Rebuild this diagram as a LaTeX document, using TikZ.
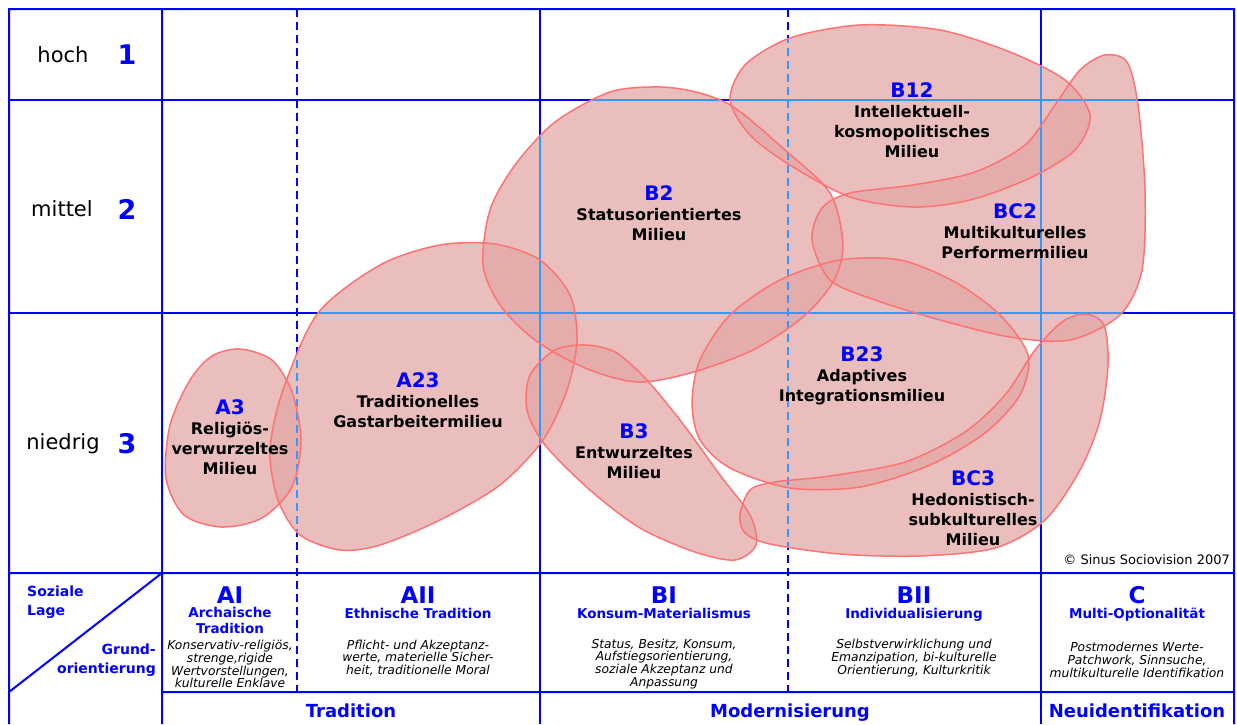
\documentclass[tikz,border=0pt]{standalone}
\usepackage{fontspec}
\setmainfont{DejaVu Sans}
\usetikzlibrary{positioning}

\definecolor{lineblue}{RGB}{0,0,255}
\definecolor{lightblue}{RGB}{51,153,255}
\definecolor{milfill}{RGB}{227,165,165}
\definecolor{milline}{RGB}{252,115,115}

\tikzset{
  gline/.style={lineblue, line width=2pt},
  gdash/.style={gline, dash pattern=on 8pt off 5pt},
  gin/.style={lightblue, line width=2pt},
  gindash/.style={gin, dash pattern=on 8pt off 5pt},
  milieu/.style={fill=milfill, fill opacity=0.72},
  milborder/.style={milline, line width=1.5pt},
  mlabel/.style={align=center, inner sep=0pt, font=\fontsize{16}{20}\selectfont\bfseries},
  level/.style={inner sep=0pt, font=\fontsize{21}{24}\selectfont},
  levelno/.style={inner sep=0pt, text=lineblue, font=\fontsize{27}{30}\selectfont\bfseries},
  coltitle/.style={inner sep=0pt, text=lineblue, font=\fontsize{23}{26}\selectfont\bfseries},
  colsub/.style={inner sep=0pt, align=center, text=lineblue, font=\fontsize{13.5}{16}\selectfont\bfseries},
  coldesc/.style={inner sep=0pt, align=center, font=\fontsize{12.3}{12.9}\selectfont\itshape},
  colgroup/.style={inner sep=0pt, anchor=base, text=lineblue, font=\fontsize{18}{20}\selectfont\bfseries},
  corner/.style={inner sep=0pt, align=#1, text=lineblue, font=\fontsize{14}{19.5}\selectfont\bfseries}
}

\newcommand\mtitle[1]{{\fontsize{20}{20}\selectfont\color{lineblue}#1}}

\newcommand\innerlines[2]{%
  \draw[#1] (9,100) -- (1234,100) (9,313) -- (1234,313)
    (540,9) -- (540,724) (1041,9) -- (1041,724);
  \draw[#2] (297,9) -- (297,692) (788,9) -- (788,692);}

\newcommand\blobathree{plot[smooth cycle] coordinates {(240,349) (272,360) (292,392) (301,440) (292,487) (262,518) (222,527) (184,515) (166,478) (170,425) (190,380) (212,356)}}
\newcommand\blobatwothree{plot[smooth cycle] coordinates {(283,390) (318,313) (380,265) (440,245) (495,244) (540,260) (570,295) (577,340) (567,390) (543,440) (500,485) (440,520) (380,545) (340,550) (300,535) (278,500) (270,450)}}
\newcommand\blobbtwo{plot[smooth cycle] coordinates {(610,92) (660,87) (700,93) (735,108) (785,150) (830,193) (843,245) (833,282) (803,317) (753,350) (690,373) (637,382) (585,368) (535,340) (500,305) (483,265) (490,210) (515,165) (555,122)}}
\newcommand\blobbonetwo{plot[smooth cycle] coordinates {(730,100) (745,65) (790,38) (860,25) (940,30) (1010,52) (1065,80) (1090,115) (1075,150) (1030,178) (970,200) (913,207) (850,197) (790,165) (750,135)}}
\newcommand\blobbctwo{plot[smooth cycle] coordinates {(812,240) (822,208) (850,193) (913,185) (975,172) (1025,145) (1055,105) (1080,70) (1105,55) (1127,62) (1138,105) (1145,190) (1142,270) (1120,315) (1070,340) (1010,337) (940,320) (875,300) (830,280)}}
\newcommand\blobbthree{plot[smooth cycle] coordinates {(530,375) (555,350) (585,345) (615,352) (645,378) (680,420) (720,475) (750,515) (756,545) (735,560) (695,552) (640,528) (590,490) (545,445) (527,410)}}
\newcommand\blobbtwothree{plot[smooth cycle] coordinates {(692,403) (700,360) (730,315) (780,280) (840,260) (900,260) (955,282) (1000,315) (1028,355) (1020,395) (985,433) (930,465) (860,487) (790,488) (730,468) (700,440)}}
\newcommand\blobbcthree{plot[smooth cycle] coordinates {(740,515) (750,490) (775,482) (830,476) (905,462) (965,432) (1005,395) (1035,350) (1062,322) (1085,314) (1104,325) (1108,365) (1100,420) (1080,470) (1045,520) (995,548) (920,556) (840,554) (770,544) (745,533)}}

\begin{document}
\begin{tikzpicture}[x=1pt, y=-1pt]
  \useasboundingbox (0,0) rectangle (1237,724);

  \draw[gline] (9,724) -- (9,9) -- (1234,9) -- (1234,724)
    (9,573) -- (1234,573) (162,692) -- (1234,692)
    (162,9) -- (162,724) (9,692) -- (162,573);
  \innerlines{gline}{gdash}

  \foreach \b in {\blobathree,\blobatwothree,\blobbtwo,\blobbonetwo,\blobbctwo,\blobbthree,\blobbtwothree,\blobbcthree}
    \fill[milieu] \b;
  \foreach \b in {\blobathree,\blobatwothree,\blobbtwo,\blobbonetwo,\blobbctwo,\blobbthree,\blobbtwothree,\blobbcthree}{
    \begin{scope}
      \clip \b;
      \innerlines{gin}{gindash}
    \end{scope}}
  \foreach \b in {\blobathree,\blobatwothree,\blobbtwo,\blobbonetwo,\blobbctwo,\blobbthree,\blobbtwothree,\blobbcthree}
    \draw[milborder] \b;

  \node[level] (hoch) at (63,55) {hoch};
  \node[levelno] (n1) at (127,55) {1};
  \node[level] (mittel) at (62,209) {mittel};
  \node[levelno] (n2) at (127,209) {2};
  \node[level] (niedrig) at (63,444) {niedrig};
  \node[levelno] (n3) at (127,444) {3};

  \node[mlabel] (a3) at (230,437) {\mtitle{A3}\\Religiös-\\verwurzeltes\\Milieu};
  \node[mlabel] (a23) at (418,400) {\mtitle{A23}\\Traditionelles\\Gastarbeitermilieu};
  \node[mlabel] (b2) at (659,213) {\mtitle{B2}\\Statusorientiertes\\Milieu};
  \node[mlabel] (b12) at (912,120) {\mtitle{B12}\\Intellektuell-\\kosmopolitisches\\Milieu};
  \node[mlabel] (bc2) at (1015,231) {\mtitle{BC2}\\Multikulturelles\\Performermilieu};
  \node[mlabel] (b3) at (634,451) {\mtitle{B3}\\Entwurzeltes\\Milieu};
  \node[mlabel] (b23) at (862,376) {\mtitle{B23}\\Adaptives\\Integrationsmilieu};
  \node[mlabel] (bc3) at (973,508) {\mtitle{BC3}\\Hedonistisch-\\subkulturelles\\Milieu};

  \node[inner sep=0pt, anchor=east, font=\fontsize{13}{15}\selectfont] (copy) at (1230,560) {© Sinus Sociovision 2007};

  \node[corner=left, anchor=west] (lage) at (27,602) {Soziale\\Lage};
  \node[corner=right, anchor=east] (grund) at (156,660) {Grund-\\orientierung};

  \node[coltitle] (ai) at (230,595) {AI};
  \node[colsub] (ais) at (230,620) {Archaische\\Tradition};
  \node[coldesc] (aid) at (230,664) {Konservativ-religiös,\\strenge,rigide\\Wertvorstellungen,\\kulturelle Enklave};

  \node[coltitle] (aii) at (418,595) {AII};
  \node[colsub, anchor=base] (aiis) at (418,618) {Ethnische Tradition};
  \node[coldesc] (aiid) at (418,658) {Pflicht- und Akzeptanz-\\werte, materielle Sicher-\\heit, traditionelle Moral};

  \node[coltitle] (bi) at (664,595) {BI};
  \node[colsub, anchor=base] (bis) at (664,618) {Konsum-Materialismus};
  \node[coldesc] (bid) at (664,664) {Status, Besitz, Konsum,\\Aufstiegsorientierung,\\soziale Akzeptanz und\\Anpassung};

  \node[coltitle] (bii) at (914,595) {BII};
  \node[colsub, anchor=base] (biis) at (914,618) {Individualisierung};
  \node[coldesc] (biid) at (914,658) {Selbstverwirklichung und\\Emanzipation, bi-kulturelle\\Orientierung, Kulturkritik};

  \node[coltitle] (c) at (1137,595) {C};
  \node[colsub, anchor=base] (cs) at (1137,618) {Multi-Optionalität};
  \node[coldesc] (cd) at (1137,660) {Postmodernes Werte-\\Patchwork, Sinnsuche,\\multikulturelle Identifikation};

  \node[colgroup] (trad) at (351,717) {Tradition};
  \node[colgroup] (mod) at (790,717) {Modernisierung};
  \node[colgroup] (neu) at (1137,717) {Neuidentifikation};
\end{tikzpicture}
\end{document}
